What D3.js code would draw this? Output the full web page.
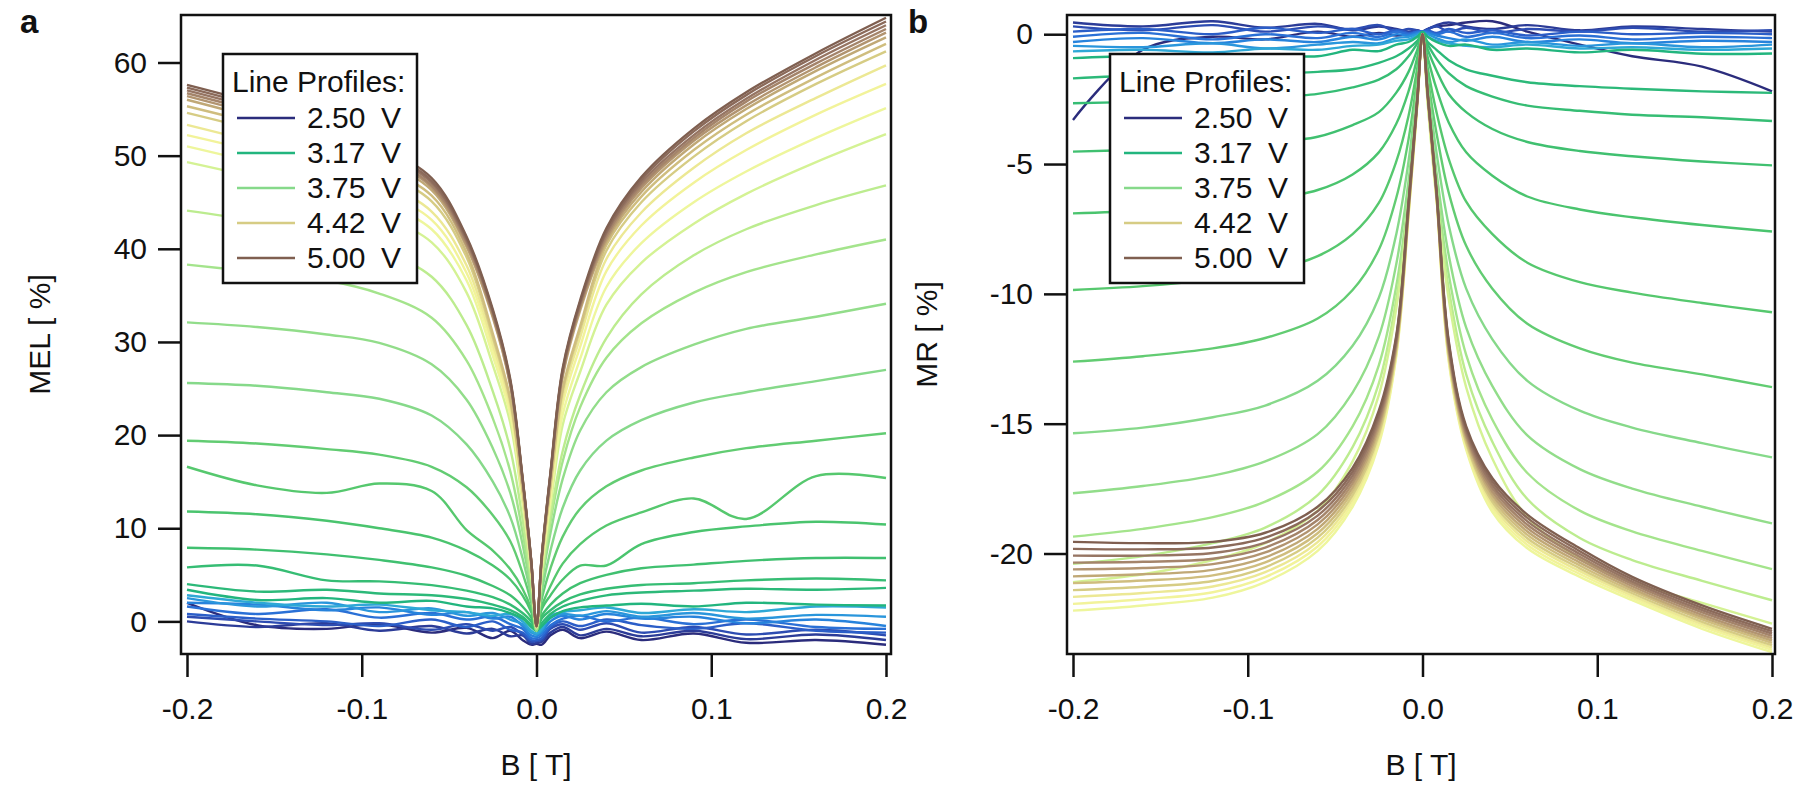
<!DOCTYPE html>
<html>
<head>
<meta charset="utf-8">
<script src="https://cdn.jsdelivr.net/npm/d3@7"></script>
<style>
  body { margin: 0; background: #fff; }
  text { font-family: "Liberation Sans", Arial, sans-serif; fill: #111; }
</style>
</head>
<body>
<div id="chart"></div>
<script>
// magnetic field grid shared by every profile
var bField = [-0.2, -0.16, -0.12, -0.09, -0.06, -0.04, -0.025, -0.015, -0.008, -0.003, 0,
              0.003, 0.008, 0.015, 0.025, 0.04, 0.06, 0.09, 0.12, 0.16, 0.2];

// one colour per bias voltage, 2.50 V ... 5.00 V in steps of 1/12 V
var lineColors = ["#2b2c7c", "#2c3c98", "#2d4cb2", "#2b5ec8", "#2a70d6", "#2783dc", "#2a96dc", "#2ea8d6",
  "#22b57e", "#2cb979", "#36bd74", "#40c070", "#4ac46e", "#56c86e", "#62cc72", "#86d98a",
  "#92dd8a", "#a4e48c", "#bcec8f", "#d4f294", "#eef69c", "#f2f39a", "#ece894", "#d6cc84",
  "#cfbd7e", "#c0a876", "#b29470", "#a4846a", "#967563", "#8b6a5a", "#7f5f50"];

var legendLabels = ["2.50", "3.17", "3.75", "4.42", "5.00"];
var legendIndex = [0, 8, 15, 23, 30];

var melTicks = [0, 10, 20, 30, 40, 50, 60];
var mrTicks = [0, -5, -10, -15, -20];
var bTicks = [-0.2, -0.1, 0.0, 0.1, 0.2];

// MEL [%] profiles (panel a)
var melCurves = [
  [2.0, -0.4, -0.8, -0.3, -1.2, -0.7, -1.8, -1.0, -2.0, -2.5, -2.4, -2.5, -1.5, -0.9, -1.8, -1.1, -2.0, -1.3, -2.3, -2.0, -2.5],
  [0.0, -0.6, -0.2, -1.0, -0.5, -1.3, -0.8, -1.6, -1.5, -2.4, -2.3, -2.2, -1.2, -0.6, -1.5, -0.8, -1.6, -1.0, -1.9, -1.4, -2.0],
  [0.5, 0.0, -0.4, -0.2, -0.9, -0.3, -1.0, -0.6, -1.4, -2.2, -2.1, -2.0, -0.8, -0.3, -0.9, -0.2, -1.2, -0.6, -1.4, -0.9, -1.5],
  [0.8, 0.3, 0.0, -0.5, 0.2, -0.6, 0.0, -0.9, -1.2, -2.0, -2.0, -1.8, -0.6, 0.0, -0.5, 0.2, -0.4, -0.8, -0.2, -1.0, -1.2],
  [1.6, 0.8, 1.3, 0.4, 0.9, 0.2, 0.5, -0.3, -0.8, -1.8, -1.8, -1.5, -0.4, 0.3, 0.6, 0.0, 0.4, -0.3, 0.2, -0.6, -0.8],
  [2.0, 1.8, 1.2, 1.5, 0.7, 1.0, 0.3, 0.5, -0.5, -1.5, -1.6, -1.2, 0.0, 0.6, 0.2, 0.8, 0.3, 0.5, -0.2, 0.2, -0.5],
  [2.5, 1.6, 2.0, 1.0, 1.4, 0.6, 0.9, 0.2, -0.3, -1.2, -1.4, -1.0, 0.4, 0.8, 0.6, 1.1, 0.5, 0.9, 0.3, 0.7, 0.5],
  [2.8, 2.0, 1.6, 1.8, 1.2, 1.0, 0.6, 0.8, 0.0, -1.0, -1.3, -0.8, 0.6, 1.0, 1.2, 1.5, 0.9, 1.3, 1.0, 1.6, 1.5],
  [3.4, 2.3, 2.5, 2.0, 2.2, 1.6, 1.4, 0.9, 0.3, -0.6, -1.0, -0.5, 0.4, 1.1, 1.5, 1.7, 1.9, 1.6, 2.0, 1.8, 1.7],
  [4.0, 3.2, 3.4, 3.0, 2.8, 2.4, 1.8, 1.2, 0.5, -0.4, -1.0, -0.2, 0.8, 1.6, 2.2, 2.8, 3.1, 3.3, 3.5, 3.4, 3.6],
  [5.8, 6.0, 4.4, 4.3, 3.9, 3.3, 2.6, 1.8, 0.9, 0.0, -1.0, 0.3, 1.2, 2.1, 2.9, 3.5, 3.9, 4.1, 4.4, 4.6, 4.4],
  [7.9, 7.7, 7.2, 6.6, 5.8, 4.9, 3.8, 2.8, 1.6, 0.4, -1.0, 0.6, 1.8, 3.0, 4.1, 5.0, 5.7, 6.1, 6.5, 6.8, 6.8],
  [11.8, 11.5, 10.8, 10.0, 9.0, 7.6, 6.0, 4.5, 2.8, 1.0, -1.0, 1.3, 2.8, 4.5, 6.0, 6.0, 8.3, 9.6, 10.2, 10.7, 10.4],
  [16.6, 14.6, 13.8, 14.8, 14.0, 9.8, 7.6, 5.6, 3.5, 1.3, -1.0, 1.6, 3.8, 6.2, 8.3, 10.3, 11.7, 13.2, 11.0, 15.6, 15.4],
  [19.4, 19.1, 18.5, 17.9, 16.6, 14.4, 11.4, 8.6, 5.2, 2.0, -1.0, 2.4, 5.7, 9.1, 12.1, 14.5, 16.2, 17.6, 18.6, 19.4, 20.2],
  [25.6, 25.3, 24.6, 23.9, 22.1, 19.0, 15.0, 11.2, 6.8, 2.6, -1.0, 3.2, 7.6, 12.2, 16.2, 19.4, 21.6, 23.5, 24.6, 25.8, 27.0],
  [32.1, 31.6, 30.8, 29.9, 27.6, 23.8, 18.6, 13.8, 8.3, 3.2, -1.0, 4.1, 9.5, 15.3, 20.5, 24.6, 27.3, 29.7, 31.4, 32.7, 34.1],
  [38.3, 37.5, 36.6, 35.2, 32.6, 28.0, 21.8, 16.1, 9.6, 3.8, -0.8, 4.5, 10.7, 17.2, 23.0, 28.3, 32.0, 35.3, 37.5, 39.4, 41.0],
  [44.1, 43.0, 41.7, 39.9, 37.0, 31.8, 24.7, 18.5, 11.0, 4.4, -0.8, 4.7, 11.2, 18.3, 24.3, 30.4, 35.1, 39.3, 42.1, 44.7, 46.8],
  [49.3, 47.6, 45.6, 43.6, 40.7, 35.3, 27.5, 21.3, 12.7, 5.3, -0.6, 5.4, 12.4, 21.1, 26.8, 34.0, 38.5, 42.7, 45.9, 49.3, 52.3],
  [51.0, 49.2, 47.2, 45.1, 42.1, 36.6, 28.5, 22.1, 13.2, 5.5, -0.6, 5.7, 13.1, 22.2, 28.2, 35.9, 40.6, 45.0, 48.3, 51.9, 55.1],
  [52.2, 50.4, 48.3, 46.2, 43.1, 37.4, 29.2, 22.6, 13.5, 5.7, -0.6, 6.0, 13.7, 23.3, 29.5, 37.6, 42.5, 47.1, 50.6, 54.4, 57.7],
  [53.3, 51.4, 49.3, 47.2, 44.0, 38.2, 29.8, 23.1, 13.8, 5.8, -0.6, 6.2, 14.2, 24.1, 30.5, 38.9, 43.9, 48.7, 52.4, 56.2, 59.7],
  [54.6, 52.7, 50.5, 48.3, 45.1, 39.1, 30.5, 23.6, 14.1, 5.9, -0.6, 6.3, 14.5, 24.7, 31.3, 39.8, 45.0, 49.9, 53.7, 57.7, 61.2],
  [55.3, 53.4, 51.2, 48.9, 45.7, 39.6, 30.9, 23.9, 14.3, 6.0, -0.6, 6.4, 14.7, 25.0, 31.7, 40.4, 45.6, 50.6, 54.4, 58.4, 62.0],
  [56.0, 54.0, 51.8, 49.6, 46.3, 40.2, 32.6, 25.3, 15.1, 6.3, -0.5, 6.8, 15.5, 26.3, 33.4, 40.8, 46.1, 51.2, 55.0, 59.1, 62.7],
  [56.4, 54.4, 52.2, 49.9, 46.6, 40.4, 32.8, 25.4, 15.2, 6.4, -0.5, 6.8, 15.6, 26.5, 33.7, 41.1, 46.5, 51.6, 55.4, 59.5, 63.2],
  [56.7, 54.7, 52.4, 50.2, 46.8, 40.7, 33.0, 25.6, 15.3, 6.4, -0.5, 6.9, 15.7, 26.7, 33.9, 41.4, 46.8, 51.9, 55.8, 59.9, 63.6],
  [57.0, 55.0, 52.7, 50.4, 47.1, 40.9, 33.2, 25.7, 15.3, 6.4, -0.5, 6.9, 15.8, 26.9, 34.1, 41.7, 47.1, 52.2, 56.1, 60.3, 64.0],
  [57.3, 55.3, 53.0, 50.7, 47.3, 41.1, 33.3, 25.8, 15.4, 6.5, -0.5, 7.0, 15.9, 27.0, 34.3, 41.9, 47.4, 52.6, 56.5, 60.7, 64.4],
  [57.6, 55.6, 53.3, 51.0, 47.6, 41.3, 33.5, 26.0, 15.5, 6.5, -0.5, 7.0, 16.0, 27.2, 34.5, 42.2, 47.7, 52.9, 56.8, 61.0, 64.8]
];

// MR [%] profiles (panel b)
var mrCurves = [
  [-3.3, -0.6, -0.1, -0.2, 0.1, -0.1, 0.05, -0.05, 0.0, 0.05, 0.1, 0.2, 0.3, 0.35, 0.45, 0.5, 0.1, -0.4, -0.85, -1.25, -2.2],
  [0.45, 0.3, 0.5, 0.25, 0.4, 0.15, 0.3, 0.2, 0.1, 0.15, 0.1, 0.2, 0.35, 0.45, 0.3, 0.2, 0.35, 0.15, 0.3, 0.2, 0.1],
  [0.3, 0.15, 0.35, 0.1, 0.3, 0.2, 0.35, 0.1, 0.2, 0.15, 0.1, 0.2, 0.3, 0.1, 0.25, 0.05, 0.2, 0.1, 0.25, 0.1, 0.15],
  [0.1, 0.2, 0.0, 0.25, 0.05, 0.2, 0.0, 0.15, 0.05, 0.1, 0.1, 0.15, 0.05, 0.2, 0.05, 0.15, -0.05, 0.1, 0.0, 0.05, 0.0],
  [-0.1, 0.05, -0.2, 0.0, -0.15, 0.05, -0.1, 0.1, 0.0, 0.1, 0.1, 0.1, 0.0, 0.1, -0.1, 0.05, -0.15, -0.05, -0.2, -0.1, -0.15],
  [-0.3, -0.15, -0.35, -0.2, -0.3, -0.1, -0.2, 0.0, -0.05, 0.05, 0.1, 0.05, -0.05, -0.15, -0.25, -0.1, -0.3, -0.2, -0.35, -0.25, -0.3],
  [-0.45, -0.5, -0.35, -0.55, -0.4, -0.3, -0.35, -0.15, -0.1, 0.0, 0.05, 0.0, -0.15, -0.3, -0.2, -0.4, -0.3, -0.45, -0.35, -0.5, -0.4],
  [-0.66, -0.6, -0.7, -0.55, -0.6, -0.45, -0.4, -0.25, -0.2, -0.05, 0.05, -0.1, -0.25, -0.35, -0.45, -0.5, -0.4, -0.55, -0.5, -0.6, -0.55],
  [-0.92, -0.85, -1.0, -0.8, -0.85, -0.6, -0.65, -0.4, -0.3, -0.1, 0.1, -0.1, -0.3, -0.45, -0.4, -0.6, -0.55, -0.7, -0.6, -0.75, -0.74],
  [-1.7, -1.6, -1.7, -1.55, -1.45, -1.35, -1.1, -0.85, -0.55, -0.25, 0.0, -0.3, -0.6, -1.0, -1.35, -1.6, -1.85, -2.0, -2.1, -2.2, -2.26],
  [-2.66, -2.6, -2.55, -2.45, -2.3, -2.05, -1.75, -1.35, -0.85, -0.35, 0.0, -0.4, -0.95, -1.5, -2.0, -2.4, -2.75, -2.95, -3.1, -3.2, -3.34],
  [-4.52, -4.45, -4.35, -4.2, -3.95, -3.5, -3.0, -2.25, -1.45, -0.6, 0.0, -0.6, -1.4, -2.3, -3.0, -3.65, -4.15, -4.5, -4.7, -4.9, -5.05],
  [-6.9, -6.8, -6.6, -6.4, -6.0, -5.4, -4.55, -3.45, -2.2, -0.9, 0.0, -0.9, -2.1, -3.4, -4.55, -5.45, -6.25, -6.75, -7.05, -7.35, -7.6],
  [-9.85, -9.7, -9.45, -9.15, -8.55, -7.7, -6.5, -4.9, -3.15, -1.3, 0.0, -1.3, -3.0, -4.8, -6.45, -7.7, -8.8, -9.55, -9.95, -10.35, -10.71],
  [-12.61, -12.4, -12.1, -11.7, -10.95, -9.85, -8.3, -6.3, -4.05, -1.65, 0.0, -1.65, -3.8, -6.1, -8.15, -9.8, -11.15, -12.1, -12.65, -13.1, -13.59],
  [-15.37, -15.15, -14.75, -14.3, -13.35, -12.0, -10.15, -7.7, -4.9, -2.0, 0.0, -1.95, -4.55, -7.35, -9.8, -11.75, -13.35, -14.5, -15.15, -15.75, -16.3],
  [-17.68, -17.4, -17.0, -16.45, -15.4, -13.8, -11.65, -8.85, -5.65, -2.3, 0.0, -2.25, -5.3, -8.5, -11.3, -13.55, -15.45, -16.75, -17.5, -18.2, -18.84],
  [-19.35, -19.05, -18.6, -18.0, -16.85, -15.1, -12.75, -9.7, -6.2, -2.5, 0.0, -2.45, -5.75, -9.25, -12.35, -14.85, -16.9, -18.35, -19.15, -19.9, -20.6],
  [-20.4, -20.1, -19.6, -19.0, -17.75, -15.9, -13.45, -10.2, -6.55, -2.65, 0.0, -2.6, -6.1, -9.8, -13.1, -15.7, -17.9, -19.4, -20.25, -21.05, -21.8],
  [-21.1, -20.8, -20.25, -19.6, -18.35, -16.45, -13.9, -10.55, -6.75, -2.75, 0.0, -2.7, -6.35, -10.2, -13.6, -16.35, -18.6, -20.2, -21.1, -21.9, -22.7],
  [-22.2, -22.0, -21.7, -21.1, -19.9, -18.2, -15.8, -12.4, -7.0, -2.7, 0.0, -2.5, -6.3, -12.6, -16.0, -18.4, -19.8, -20.9, -21.8, -22.9, -23.8],
  [-21.94, -21.76, -21.49, -20.91, -19.73, -18.05, -15.67, -12.32, -6.95, -2.68, 0.0, -2.48, -6.27, -12.52, -15.91, -18.27, -19.67, -20.79, -21.71, -22.81, -23.71],
  [-21.67, -21.52, -21.27, -20.72, -19.56, -17.9, -15.54, -12.24, -6.9, -2.66, 0.0, -2.46, -6.24, -12.44, -15.82, -18.14, -19.54, -20.68, -21.62, -22.72, -23.62],
  [-21.41, -21.28, -21.06, -20.53, -19.39, -17.75, -15.41, -12.16, -6.85, -2.64, 0.0, -2.44, -6.21, -12.36, -15.73, -18.01, -19.41, -20.57, -21.53, -22.63, -23.53],
  [-21.14, -21.04, -20.84, -20.34, -19.22, -17.6, -15.28, -12.08, -6.8, -2.62, 0.0, -2.42, -6.18, -12.28, -15.64, -17.88, -19.28, -20.46, -21.44, -22.54, -23.44],
  [-20.88, -20.8, -20.63, -20.15, -19.05, -17.45, -15.15, -12.0, -6.75, -2.6, 0.0, -2.4, -6.15, -12.2, -15.55, -17.75, -19.15, -20.35, -21.35, -22.45, -23.35],
  [-20.61, -20.56, -20.41, -19.96, -18.88, -17.3, -15.02, -11.92, -6.7, -2.58, 0.0, -2.38, -6.12, -12.12, -15.46, -17.62, -19.02, -20.24, -21.26, -22.36, -23.26],
  [-20.35, -20.32, -20.2, -19.77, -18.71, -17.15, -14.89, -11.84, -6.65, -2.56, 0.0, -2.36, -6.09, -12.04, -15.37, -17.49, -18.89, -20.13, -21.17, -22.27, -23.17],
  [-20.08, -20.08, -19.98, -19.58, -18.54, -17.0, -14.76, -11.76, -6.6, -2.54, 0.0, -2.34, -6.06, -11.96, -15.28, -17.36, -18.76, -20.02, -21.08, -22.18, -23.08],
  [-19.82, -19.84, -19.77, -19.39, -18.37, -16.85, -14.63, -11.68, -6.55, -2.52, 0.0, -2.32, -6.03, -11.88, -15.19, -17.23, -18.63, -19.91, -20.99, -22.09, -22.99],
  [-19.55, -19.6, -19.55, -19.2, -18.2, -16.7, -14.5, -11.6, -6.5, -2.5, 0.0, -2.3, -6.0, -11.8, -15.1, -17.1, -18.5, -19.8, -20.9, -22.0, -22.9]
];

var svg = d3.select("#chart")
  .append("svg")
  .attr("width", 1800)
  .attr("height", 791);

var fontSize = 30;

// draw one Igor-style panel
function drawPanel(cfg) {
  var x = d3.scaleLinear().domain([-0.2, 0.2]).range(cfg.xRange);
  var y = d3.scaleLinear().domain(cfg.yDomain).range([cfg.bottom, cfg.top]);

  var g = svg.append("g");

  g.append("clipPath")
    .attr("id", cfg.id + "-clip")
    .append("rect")
    .attr("x", cfg.left)
    .attr("y", cfg.top)
    .attr("width", cfg.right - cfg.left)
    .attr("height", cfg.bottom - cfg.top);

  var line = d3.line()
    .x(function(d) { return x(d[0]); })
    .y(function(d) { return y(d[1]); })
    .curve(d3.curveCatmullRom.alpha(0.5));

  // profiles
  g.append("g")
    .attr("clip-path", "url(#" + cfg.id + "-clip)")
    .selectAll("path")
    .data(cfg.curves)
    .enter()
    .append("path")
    .attr("d", function(vals) {
      return line(vals.map(function(v, i) { return [bField[i], v]; }));
    })
    .attr("fill", "none")
    .attr("stroke", function(d, i) { return lineColors[i]; })
    .attr("stroke-width", 2.4)
    .attr("stroke-linejoin", "round");

  // axes
  var xAxis = g.append("g")
    .attr("transform", "translate(0," + cfg.bottom + ")")
    .call(d3.axisBottom(x).tickValues(bTicks).tickSize(23).tickPadding(21)
      .tickFormat(function(d) { return d.toFixed(1); }));

  var yAxis = g.append("g")
    .attr("transform", "translate(" + cfg.left + ",0)")
    .call(d3.axisLeft(y).tickValues(cfg.yTicks).tickSize(23).tickPadding(11)
      .tickFormat(function(d) { return String(d); }));

  [xAxis, yAxis].forEach(function(ax) {
    ax.select(".domain").remove();
    ax.selectAll(".tick line").attr("stroke", "#111").attr("stroke-width", 2.5);
    ax.selectAll(".tick text")
      .attr("font-size", fontSize)
      .attr("font-family", "Liberation Sans, Arial, sans-serif")
      .attr("fill", "#111");
  });

  // frame
  g.append("rect")
    .attr("x", cfg.left)
    .attr("y", cfg.top)
    .attr("width", cfg.right - cfg.left)
    .attr("height", cfg.bottom - cfg.top)
    .attr("fill", "none")
    .attr("stroke", "#111")
    .attr("stroke-width", 2.5);

  // axis titles
  g.append("text")
    .attr("x", (cfg.left + cfg.right) / 2)
    .attr("y", 775)
    .attr("text-anchor", "middle")
    .attr("font-size", fontSize)
    .text("B [ T]");

  g.append("text")
    .attr("transform", "translate(" + cfg.yTitleX + "," + ((cfg.top + cfg.bottom) / 2) + ") rotate(-90)")
    .attr("text-anchor", "middle")
    .attr("font-size", fontSize)
    .text(cfg.yTitle);

  // panel letter
  g.append("text")
    .attr("x", cfg.letterX)
    .attr("y", 33)
    .attr("font-size", 33)
    .attr("font-weight", "bold")
    .text(cfg.letter);

  // legend
  var lg = g.append("g").attr("transform", "translate(" + cfg.legendX + ",54)");
  lg.append("rect")
    .attr("width", 194)
    .attr("height", 229)
    .attr("fill", "#fff")
    .attr("stroke", "#111")
    .attr("stroke-width", 2.5);
  lg.append("text")
    .attr("x", 9)
    .attr("y", 38)
    .attr("font-size", fontSize)
    .text("Line Profiles:");

  var entries = lg.selectAll(".entry")
    .data(legendLabels)
    .enter()
    .append("g")
    .attr("class", "entry")
    .attr("transform", function(d, i) { return "translate(0," + (74 + i * 35) + ")"; });

  entries.append("line")
    .attr("x1", 14)
    .attr("x2", 72)
    .attr("y1", -10)
    .attr("y2", -10)
    .attr("stroke", function(d, i) { return lineColors[legendIndex[i]]; })
    .attr("stroke-width", 2.6);
  entries.append("text")
    .attr("x", 84)
    .attr("font-size", fontSize)
    .text(function(d) { return d; });
  entries.append("text")
    .attr("x", 158)
    .attr("font-size", fontSize)
    .text("V");
}

drawPanel({
  id: "mel",
  curves: melCurves,
  left: 181, right: 891, top: 15, bottom: 654,
  xRange: [187, 886],
  yDomain: [-3.5, 65.1],
  yTicks: melTicks,
  yTitle: "MEL [ %]",
  yTitleX: 50,
  letter: "a",
  letterX: 20,
  legendX: 223
});

drawPanel({
  id: "mr",
  curves: mrCurves,
  left: 1067, right: 1775, top: 15, bottom: 654,
  xRange: [1073, 1772],
  yDomain: [-23.87, 0.74],
  yTicks: mrTicks,
  yTitle: "MR [ %]",
  yTitleX: 937,
  letter: "b",
  letterX: 908,
  legendX: 1110
});
</script>
</body>
</html>
